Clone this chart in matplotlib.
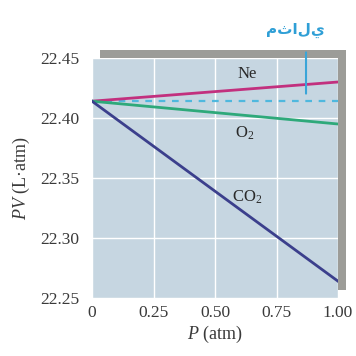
import matplotlib
matplotlib.use("Agg")
import matplotlib.pyplot as plt
from matplotlib.patches import Rectangle

plt.rcParams['font.family'] = ['Liberation Serif', 'DejaVu Sans']
plt.rcParams['mathtext.fontset'] = 'custom'
plt.rcParams['mathtext.rm'] = 'Liberation Serif'
plt.rcParams['mathtext.it'] = 'Liberation Serif:italic'

# data
pressure = [0.0, 1.0]
pv_ne = [22.414, 22.430]
pv_o2 = [22.414, 22.395]
pv_co2 = [22.414, 22.264]
pv_ideal = [22.414, 22.414]
gas_labels = ["Ne", "O$_2$", "CO$_2$"]
label_pos_p = [0.63, 0.62, 0.63]
label_pos_pv = [22.437, 22.387, 22.334]
x_ticks = [0, 0.25, 0.50, 0.75, 1.00]
x_tick_labels = ["0", "0.25", "0.50", "0.75", "1.00"]
y_ticks = [22.25, 22.30, 22.35, 22.40, 22.45]
y_tick_labels = ["22.25", "22.30", "22.35", "22.40", "22.45"]
ideal_text = "مثالي"

W = H = 356
fig = plt.figure(figsize=(W/100, H/100), dpi=100)
fig.patch.set_facecolor('white')

left, right, top, bottom = 92, 338, 58, 298
ax = fig.add_axes([left/W, 1-bottom/H, (right-left)/W, (bottom-top)/H])
ax.set_zorder(2)

# shadow frame (3D effect)
shadow = Rectangle(((left+8)/W, 1-(bottom-8)/H), (right-left)/W, (bottom-top)/H,
                   transform=fig.transFigure, facecolor='#9c9c98', edgecolor='none', zorder=1)
fig.patches.append(shadow)

ax.set_facecolor('#c6d6e1')
ax.set_xlim(0, 1.0)
ax.set_ylim(22.25, 22.45)
for s in ax.spines.values():
    s.set_visible(False)
ax.set_xticks(x_ticks)
ax.set_xticklabels(x_tick_labels)
ax.set_yticks(y_ticks)
ax.set_yticklabels(y_tick_labels)
ax.tick_params(length=0, labelsize=12.5, colors='#3a3a3a')
ax.tick_params(axis='y', pad=9)
ax.tick_params(axis='x', pad=5)
ax.grid(True, color='white', linewidth=1.0)
ax.set_axisbelow(True)

ax.plot(pressure, pv_ideal, color='#4fb8de', linestyle=(0, (3, 3)), linewidth=1.6, zorder=2)
ax.plot(pressure, pv_ne, color='#c2307e', linewidth=2.0, zorder=3)
ax.plot(pressure, pv_o2, color='#2ea97a', linewidth=2.0, zorder=3)
ax.plot(pressure, pv_co2, color='#3b3f8c', linewidth=2.0, zorder=3)

for lab, px, py in zip(gas_labels, label_pos_p, label_pos_pv):
    ax.text(px, py, lab, ha='center', va='center', fontsize=12, color='#2a2a2a')

ax.set_xlabel("$\\it{P}$ (atm)", fontsize=13, color='#3a3a3a', labelpad=2)
ax.set_ylabel("$\\it{PV}$ (L·atm)", fontsize=13, color='#3a3a3a', labelpad=6)

# ideal annotation
ax.annotate("", xy=(0.87, 22.418), xytext=(0.87, 22.457),
            arrowprops=dict(arrowstyle='-', color='#3aa5d8', lw=1.5),
            annotation_clip=False)
fig.text(295/W, 1-30/H, ideal_text, ha='center', va='center', fontsize=11,
         color='#2f9fd6', fontweight='bold', family=['DejaVu Sans'])

fig.savefig("out.png", dpi=100)
